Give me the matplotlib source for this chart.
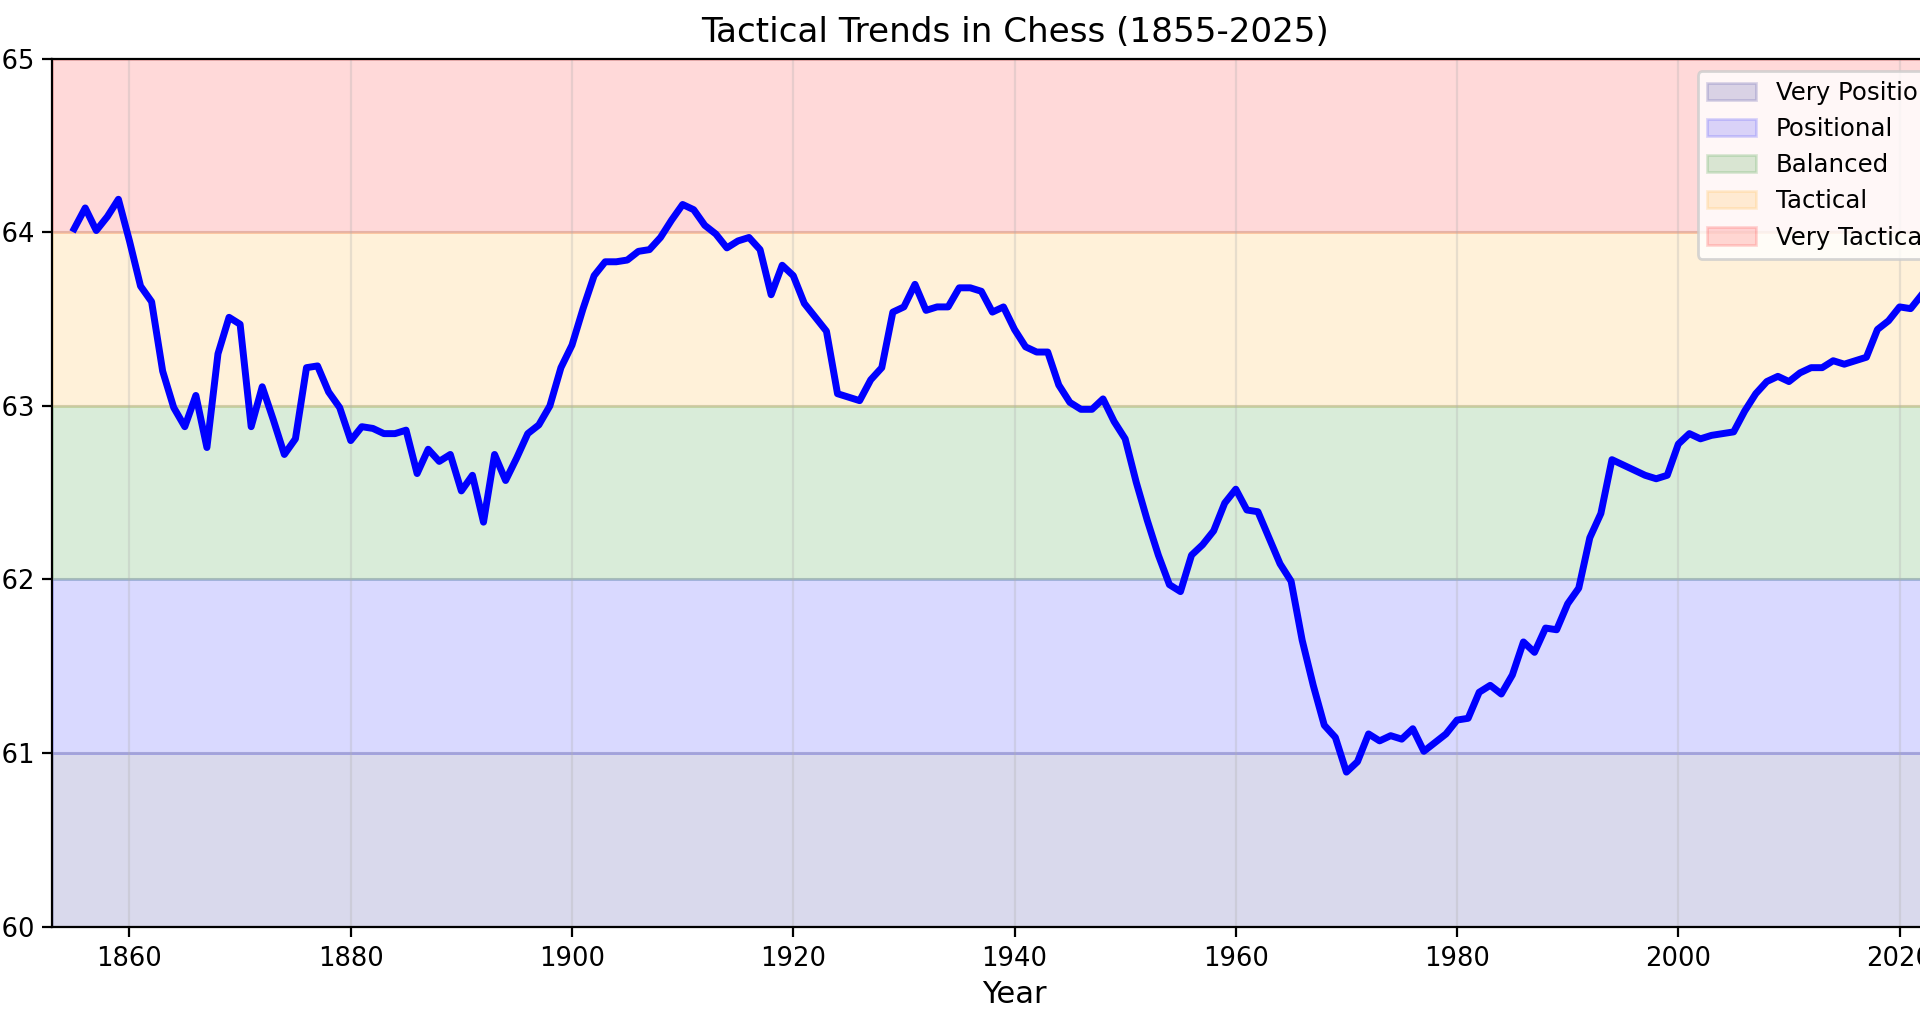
import numpy as np
import matplotlib
matplotlib.use("Agg")
import matplotlib.pyplot as plt

# yearly tactical index
years = np.arange(1855, 2026)
index = [
    0.6402, 0.6414, 0.6401, 0.6409, 0.6419,                                  # 1855-1859
    0.6395, 0.6369, 0.6360, 0.6320, 0.6299, 0.6288, 0.6306, 0.6276, 0.6330, 0.6351,  # 1860s
    0.6347, 0.6288, 0.6311, 0.6292, 0.6272, 0.6281, 0.6322, 0.6323, 0.6308, 0.6299,  # 1870s
    0.6280, 0.6288, 0.6287, 0.6284, 0.6284, 0.6286, 0.6261, 0.6275, 0.6268, 0.6272,  # 1880s
    0.6251, 0.6260, 0.6233, 0.6272, 0.6257, 0.6270, 0.6284, 0.6289, 0.6300, 0.6322,  # 1890s
    0.6335, 0.6356, 0.6375, 0.6383, 0.6383, 0.6384, 0.6389, 0.6390, 0.6397, 0.6407,  # 1900s
    0.6416, 0.6413, 0.6404, 0.6399, 0.6391, 0.6395, 0.6397, 0.6390, 0.6364, 0.6381,  # 1910s
    0.6375, 0.6359, 0.6351, 0.6343, 0.6307, 0.6305, 0.6303, 0.6315, 0.6322, 0.6354,  # 1920s
    0.6357, 0.6370, 0.6355, 0.6357, 0.6357, 0.6368, 0.6368, 0.6366, 0.6354, 0.6357,  # 1930s
    0.6344, 0.6334, 0.6331, 0.6331, 0.6312, 0.6302, 0.6298, 0.6298, 0.6304, 0.6291,  # 1940s
    0.6281, 0.6256, 0.6234, 0.6214, 0.6197, 0.6193, 0.6214, 0.6220, 0.6228, 0.6244,  # 1950s
    0.6252, 0.6240, 0.6239, 0.6224, 0.6209, 0.6199, 0.6165, 0.6139, 0.6116, 0.6109,  # 1960s
    0.6089, 0.6095, 0.6111, 0.6107, 0.6110, 0.6108, 0.6114, 0.6101, 0.6106, 0.6111,  # 1970s
    0.6119, 0.6120, 0.6135, 0.6139, 0.6134, 0.6145, 0.6164, 0.6158, 0.6172, 0.6171,  # 1980s
    0.6186, 0.6195, 0.6224, 0.6238, 0.6269, 0.6266, 0.6263, 0.6260, 0.6258, 0.6260,  # 1990s
    0.6278, 0.6284, 0.6281, 0.6283, 0.6284, 0.6285, 0.6297, 0.6307, 0.6314, 0.6317,  # 2000s
    0.6314, 0.6319, 0.6322, 0.6322, 0.6326, 0.6324, 0.6326, 0.6328, 0.6344, 0.6349,  # 2010s
    0.6357, 0.6356, 0.6364, 0.6369, 0.6373, 0.6376,                          # 2020-2025
]

zone_names = ["Very Positional", "Positional", "Balanced", "Tactical", "Very Tactical"]
zone_edges = [0.60, 0.61, 0.62, 0.63, 0.64, 0.65]
zone_colors = ["navy", "blue", "green", "orange", "red"]

fig = plt.figure(figsize=(9.6, 5.12), dpi=200)
# axes run past the right edge of the canvas, as in the reference
ax = fig.add_axes([0.0271, 0.0951, 1.0026, 0.8476])

for name, lo, hi, c in zip(zone_names, zone_edges[:-1], zone_edges[1:], zone_colors):
    ax.axhspan(lo, hi, color=c, alpha=0.15, label=name)

ax.plot(years, index, color="blue", linewidth=2.5)

ax.set_xlim(1853, 2027)
ax.set_ylim(0.60, 0.65)
ax.tick_params(axis="x", labelsize=9.3)
ax.tick_params(axis="y", labelsize=9.3, pad=2.8)
ax.set_xlabel("Year", fontsize=11, labelpad=3)
ax.set_title("Tactical Trends in Chess (1855-2025)", fontsize=12.3)
ax.grid(True, alpha=0.3)
ax.legend(loc="upper right", fontsize=8.8)

fig.savefig("out.png", dpi=200)
